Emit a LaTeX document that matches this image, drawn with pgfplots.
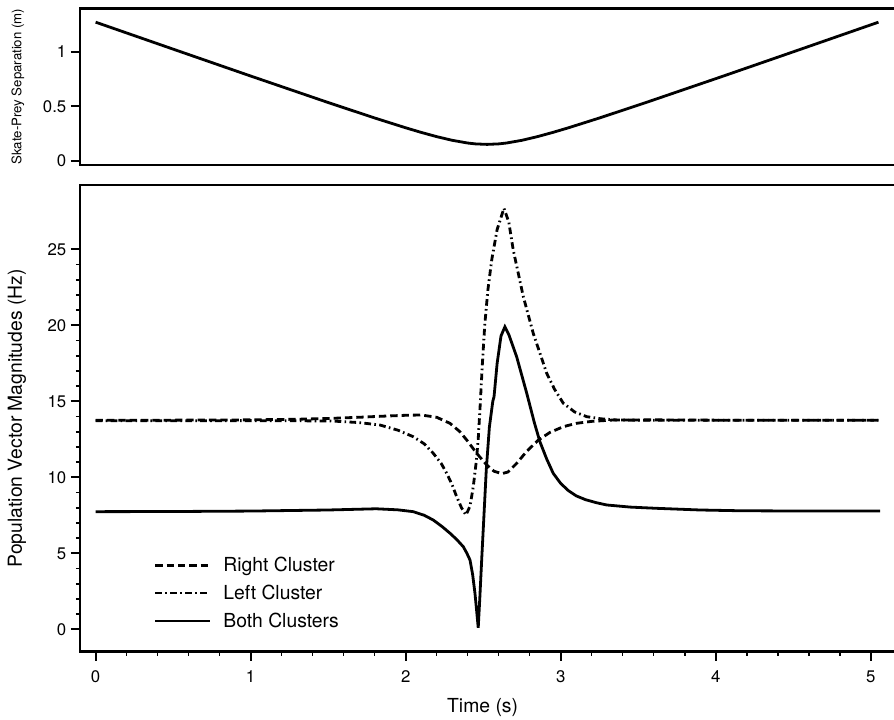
\documentclass[border=0pt]{standalone}
\usepackage{fontspec}
\setmainfont{TeX Gyre Heros}
\usepackage{pgfplots}
\pgfplotsset{compat=1.18}
\begin{document}
\begin{tikzpicture}
\pgfplotsset{
  every axis/.append style={
    scale only axis, width=615pt, xmin=-0.101, xmax=5.189,
    axis line style={line width=2pt},
    tick align=outside, tick pos=left,
    /pgf/number format/assume math mode=true,
    tick label style={font=\fontsize{12.6}{14}\selectfont},
    every major tick/.append style={line width=1.6pt, black},
    every minor tick/.append style={line width=1.2pt, black},
    major tick length=6.75pt, minor tick length=3pt,
  }
}
% ---------- top panel ----------
\begin{axis}[at={(60pt,415.5pt)}, anchor=south west, height=117.5pt,
  ymin=-0.039, ymax=1.398, ytick={0,0.5,1}, yticklabels={0,0.5,1},
  xtick=\empty,
  ylabel={Skate-Prey Separation (m)},
  ylabel style={font=\fontsize{9.9}{11}\selectfont, at={(axis description cs:-0.0756,0.5)}, anchor=center},
]
\addplot[black, line width=2.1pt] coordinates {
(0,1.271) (0.5,1.0236) (1.0,0.7771) (1.5,0.534) (1.8,0.3923) (2.0,0.3023) (2.1,0.2601)
(2.2,0.2212) (2.3,0.1875) (2.4,0.1625) (2.45,0.1546) (2.525,0.15) (2.6,0.1546)
(2.65,0.1625) (2.75,0.1875) (2.85,0.2212) (2.95,0.2601) (3.05,0.3023) (3.25,0.3923)
(3.55,0.534) (4.05,0.7771) (4.55,1.0236) (5.05,1.271)
};
\end{axis}
% ---------- bottom panel ----------
\begin{axis}[at={(60pt,50.5pt)}, anchor=south west, height=350pt,
  ymin=-1.47, ymax=29.23, xtick={0,1,2,3,4,5}, ytick={0,5,10,15,20,25},
  minor x tick num=4, minor y tick num=4,
  xticklabel style={yshift=-4pt},
  xlabel={Time (s)}, ylabel={Population Vector Magnitudes (Hz)},
  label style={font=\fontsize{14.5}{16}\selectfont},
  xlabel style={at={(axis description cs:0.491,-0.119)}, anchor=center},
  ylabel style={at={(axis description cs:-0.0768,0.5)}, anchor=center},
  legend style={draw=none, fill=none, at={(axis description cs:0.085,0.215)}, anchor=north west,
    font=\fontsize{14.5}{16}\selectfont, row sep=4.6pt},
  legend cell align=left,
  legend image code/.code={\draw[#1] (0pt,0pt) -- (41pt,0pt); \path (48pt,0pt);},
]
\addplot[black, line width=2.1pt, dash pattern=on 5.5pt off 3pt] coordinates {
(0,13.75) (0.5,13.76) (1.0,13.78) (1.3,13.82) (1.5,13.87) (1.7,13.95) (1.85,14.02)
(2.0,14.08) (2.1,14.1) (2.2,13.95) (2.286,13.55) (2.35,13.0) (2.394,12.45) (2.458,11.58)
(2.523,10.81) (2.57,10.4) (2.62,10.24) (2.66,10.35) (2.716,10.92) (2.78,11.7) (2.856,12.45)
(2.93,12.95) (3.017,13.33) (3.1,13.55) (3.2,13.68) (3.34,13.77) (3.6,13.78) (4.0,13.76)
(4.5,13.75) (5.06,13.75)
};
\addlegendentry{Right Cluster}
\addplot[black, line width=2.1pt, dash pattern=on 5pt off 2.5pt on 1.2pt off 2.5pt] coordinates {
(0,13.72) (0.5,13.72) (1.0,13.73) (1.3,13.72) (1.53,13.7) (1.7,13.6) (1.834,13.44)
(1.95,13.1) (2.049,12.67) (2.12,12.2) (2.178,11.58) (2.23,10.9) (2.265,10.26) (2.3,9.5)
(2.329,8.72) (2.36,8.0) (2.389,7.52) (2.415,8.1) (2.436,9.38) (2.455,11.0) (2.468,12.5)
(2.482,15.0) (2.495,17.5) (2.51,20.0) (2.53,22.3) (2.555,24.3) (2.59,26.3) (2.634,27.7)
(2.665,26.8) (2.694,24.95) (2.759,21.88) (2.823,19.47) (2.91,16.84) (2.96,15.8)
(3.017,14.87) (3.09,14.3) (3.168,13.99) (3.26,13.85) (3.361,13.77) (3.6,13.75)
(4.0,13.75) (4.5,13.75) (5.06,13.75)
};
\addlegendentry{Left Cluster}
\addplot[black, line width=2.1pt] coordinates {
(0,7.74) (0.5,7.75) (1.0,7.78) (1.5,7.85) (1.81,7.93) (1.95,7.86) (2.049,7.74)
(2.12,7.5) (2.178,7.19) (2.236,6.75) (2.286,6.32) (2.33,5.9) (2.372,5.43) (2.395,5.0)
(2.415,4.56) (2.432,3.6) (2.447,2.37) (2.458,1.2) (2.468,0.1) (2.478,2.0) (2.49,4.5)
(2.505,7.5) (2.52,10.5) (2.54,13.3) (2.562,15.0) (2.57,15.3) (2.59,17.5) (2.615,19.3)
(2.64,19.9) (2.665,19.4) (2.716,17.93) (2.781,15.53) (2.83,13.6) (2.866,12.34) (2.91,11.2)
(2.952,10.26) (3.0,9.6) (3.05,9.12) (3.1,8.78) (3.16,8.53) (3.23,8.33) (3.297,8.18)
(3.45,8.04) (3.619,7.96) (3.9,7.85) (4.157,7.8) (4.6,7.78) (5.06,7.78)
};
\addlegendentry{Both Clusters}
\end{axis}
\pgfresetboundingbox
\path[use as bounding box] (0pt,0pt) rectangle (670.5pt,539.25pt);
\end{tikzpicture}
\end{document}
